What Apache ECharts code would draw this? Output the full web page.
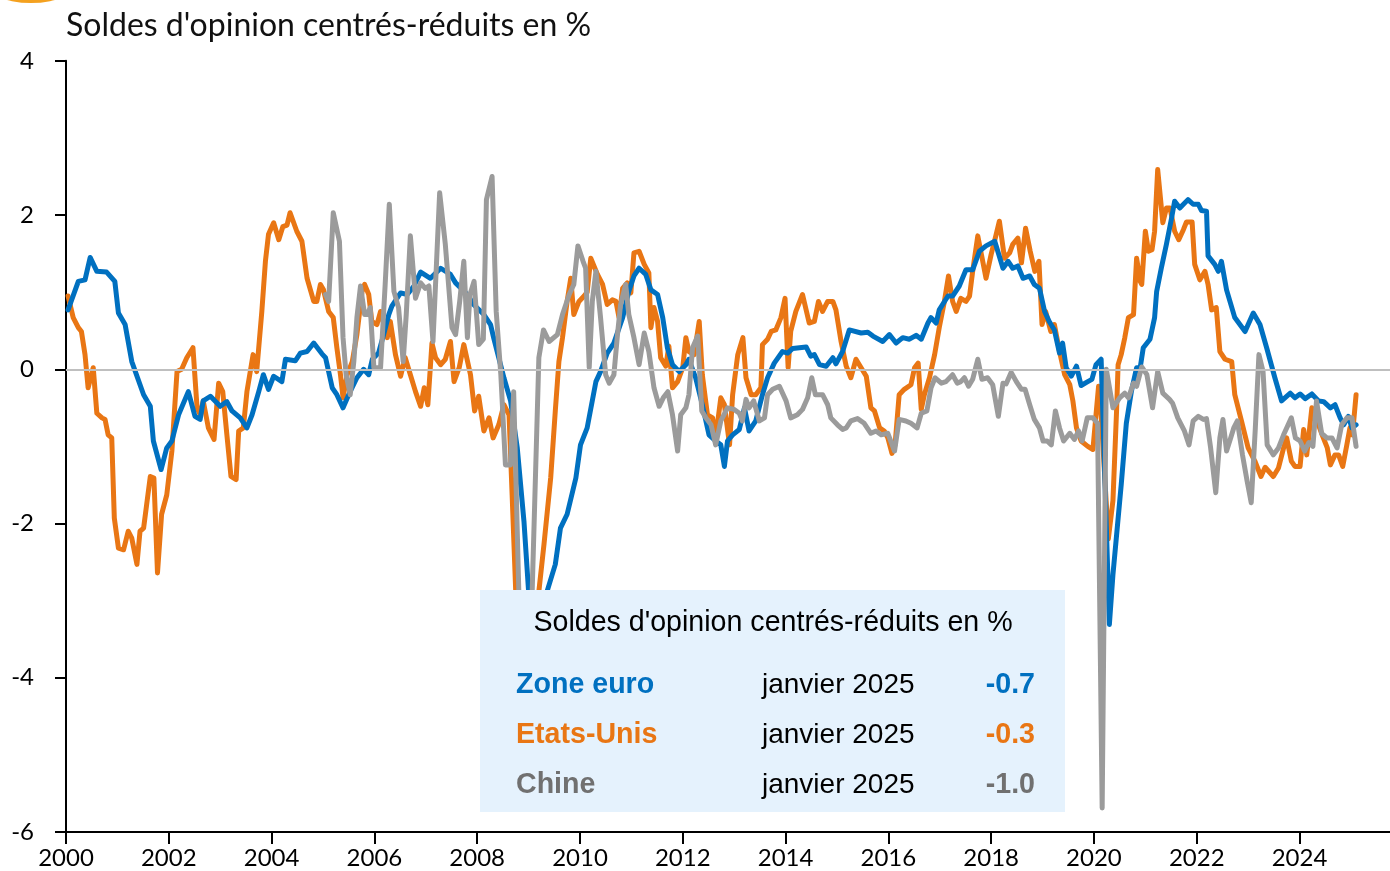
<!DOCTYPE html>
<html>
<head>
<meta charset="utf-8">
<script src="https://cdn.jsdelivr.net/npm/echarts@6/dist/echarts.min.js"></script>
<style>
  html, body { margin: 0; padding: 0; background: #ffffff; }
  #chart { width: 1390px; height: 871px; }
</style>
</head>
<body>
<div id="chart"></div>
<script>
// Soldes d'opinion centrés-réduits, [année décimale, valeur]
const zoneEuro = [[2000.04,0.77],[2000.24,1.14],[2000.37,1.16],[2000.47,1.45],[2000.6,1.27],[2000.79,1.26],[2000.95,1.14],[2001.02,0.73],[2001.15,0.58],[2001.28,0.10],[2001.51,-0.33],[2001.64,-0.48],[2001.7,-0.93],[2001.85,-1.30],[2001.96,-1.02],[2002.06,-0.93],[2002.19,-0.59],[2002.38,-0.29],[2002.51,-0.61],[2002.61,-0.65],[2002.67,-0.41],[2002.81,-0.35],[2003.0,-0.48],[2003.13,-0.42],[2003.23,-0.54],[2003.39,-0.63],[2003.52,-0.76],[2003.62,-0.59],[2003.75,-0.29],[2003.84,-0.07],[2003.94,-0.26],[2004.04,-0.09],[2004.2,-0.16],[2004.27,0.13],[2004.46,0.11],[2004.56,0.21],[2004.69,0.23],[2004.82,0.34],[2004.98,0.2],[2005.05,0.15],[2005.18,-0.24],[2005.27,-0.33],[2005.39,-0.50],[2005.5,-0.33],[2005.66,-0.11],[2005.79,0.0],[2005.89,-0.07],[2005.96,0.13],[2006.08,0.21],[2006.18,0.45],[2006.28,0.71],[2006.34,0.82],[2006.51,0.99],[2006.64,0.97],[2006.77,1.08],[2006.9,1.26],[2007.09,1.18],[2007.29,1.31],[2007.48,1.23],[2007.58,1.12],[2007.81,0.97],[2007.93,0.84],[2008.13,0.71],[2008.26,0.58],[2008.32,0.41],[2008.52,-0.11],[2008.65,-0.41],[2008.78,-1.02],[2008.91,-1.97],[2009.0,-2.88],[2009.12,-3.6],[2009.25,-3.5],[2009.36,-2.88],[2009.52,-2.53],[2009.62,-2.06],[2009.75,-1.88],[2009.92,-1.41],[2010.01,-0.98],[2010.14,-0.76],[2010.31,-0.16],[2010.4,-0.03],[2010.53,0.21],[2010.66,0.34],[2010.83,0.67],[2010.95,1.01],[2011.05,1.21],[2011.15,1.31],[2011.28,1.23],[2011.38,1.03],[2011.51,0.97],[2011.61,0.67],[2011.7,0.28],[2011.8,0.06],[2011.93,-0.03],[2012.06,0.06],[2012.12,0.13],[2012.25,-0.11],[2012.38,-0.46],[2012.51,-0.85],[2012.64,-0.93],[2012.74,-0.98],[2012.81,-1.26],[2012.87,-0.93],[2012.97,-0.85],[2013.1,-0.78],[2013.2,-0.50],[2013.29,-0.80],[2013.42,-0.67],[2013.55,-0.33],[2013.65,-0.11],[2013.78,0.08],[2013.94,0.23],[2014.04,0.21],[2014.14,0.27],[2014.4,0.29],[2014.49,0.17],[2014.56,0.19],[2014.66,0.06],[2014.79,0.04],[2014.92,0.15],[2014.98,0.07],[2015.11,0.23],[2015.24,0.51],[2015.47,0.47],[2015.6,0.48],[2015.7,0.43],[2015.89,0.36],[2016.02,0.45],[2016.15,0.34],[2016.28,0.41],[2016.41,0.39],[2016.54,0.44],[2016.64,0.39],[2016.77,0.60],[2016.83,0.67],[2016.93,0.60],[2016.99,0.77],[2017.16,0.95],[2017.25,0.95],[2017.38,1.08],[2017.51,1.29],[2017.64,1.29],[2017.77,1.53],[2017.9,1.60],[2018.07,1.66],[2018.23,1.31],[2018.33,1.40],[2018.42,1.31],[2018.52,1.34],[2018.62,1.18],[2018.75,1.21],[2018.84,1.10],[2018.94,1.05],[2019.04,0.75],[2019.13,0.62],[2019.23,0.51],[2019.33,0.21],[2019.39,0.34],[2019.46,0.02],[2019.56,-0.09],[2019.66,0.04],[2019.75,-0.21],[2019.88,-0.16],[2019.96,-0.13],[2020.04,0.06],[2020.14,0.13],[2020.3,-3.31],[2020.37,-2.66],[2020.53,-1.5],[2020.63,-0.70],[2020.73,-0.28],[2020.83,0.02],[2020.9,0.02],[2020.96,0.28],[2021.09,0.39],[2021.18,0.67],[2021.22,1.01],[2021.31,1.31],[2021.41,1.62],[2021.51,1.96],[2021.57,2.18],[2021.67,2.09],[2021.83,2.20],[2021.93,2.14],[2022.03,2.14],[2022.09,2.06],[2022.19,2.05],[2022.22,1.47],[2022.35,1.36],[2022.42,1.27],[2022.48,1.40],[2022.58,1.03],[2022.74,0.67],[2022.94,0.49],[2023.1,0.73],[2023.23,0.58],[2023.36,0.28],[2023.52,-0.11],[2023.65,-0.41],[2023.82,-0.31],[2023.91,-0.37],[2024.01,-0.32],[2024.11,-0.38],[2024.24,-0.32],[2024.37,-0.41],[2024.47,-0.42],[2024.6,-0.50],[2024.69,-0.46],[2024.79,-0.63],[2024.86,-0.72],[2024.95,-0.61],[2025.02,-0.76],[2025.1,-0.72]];

const etatsUnis = [[2000.04,0.95],[2000.14,0.67],[2000.24,0.54],[2000.3,0.49],[2000.37,0.19],[2000.43,-0.24],[2000.53,0.02],[2000.6,-0.57],[2000.7,-0.63],[2000.76,-0.65],[2000.82,-0.85],[2000.89,-0.89],[2000.94,-1.93],[2001.02,-2.32],[2001.12,-2.34],[2001.21,-2.10],[2001.28,-2.19],[2001.38,-2.53],[2001.44,-2.10],[2001.51,-2.06],[2001.57,-1.75],[2001.64,-1.39],[2001.71,-1.41],[2001.78,-2.64],[2001.86,-1.88],[2001.96,-1.63],[2002.06,-1.06],[2002.16,-0.03],[2002.25,0.0],[2002.35,0.15],[2002.47,0.28],[2002.55,-0.50],[2002.61,-0.59],[2002.67,-0.41],[2002.77,-0.76],[2002.88,-0.91],[2002.97,-0.18],[2003.05,-0.29],[2003.13,-0.85],[2003.21,-1.39],[2003.31,-1.43],[2003.36,-0.80],[2003.45,-0.76],[2003.52,-0.29],[2003.64,0.19],[2003.71,-0.03],[2003.81,0.75],[2003.88,1.40],[2003.94,1.75],[2004.04,1.90],[2004.14,1.68],[2004.22,1.85],[2004.3,1.87],[2004.36,2.03],[2004.49,1.79],[2004.59,1.66],[2004.69,1.18],[2004.82,0.88],[2004.88,0.88],[2004.95,1.10],[2005.01,1.03],[2005.11,0.75],[2005.2,0.67],[2005.27,0.28],[2005.34,-0.07],[2005.39,-0.37],[2005.47,-0.07],[2005.57,0.10],[2005.66,0.45],[2005.76,1.01],[2005.81,1.10],[2005.89,0.97],[2005.95,0.62],[2006.05,0.58],[2006.12,0.75],[2006.25,0.41],[2006.31,0.62],[2006.41,0.19],[2006.51,-0.09],[2006.6,0.15],[2006.7,-0.07],[2006.8,-0.29],[2006.9,-0.48],[2006.97,-0.24],[2007.04,-0.46],[2007.12,0.34],[2007.19,0.15],[2007.29,0.06],[2007.38,0.13],[2007.48,0.36],[2007.55,-0.16],[2007.65,0.02],[2007.74,0.32],[2007.87,-0.07],[2007.95,-0.54],[2008.03,-0.35],[2008.13,-0.80],[2008.23,-0.63],[2008.31,-0.89],[2008.42,-0.72],[2008.52,-0.46],[2008.62,-0.59],[2008.68,-1.63],[2008.75,-2.88],[2008.9,-3.6],[2009.05,-3.5],[2009.2,-2.88],[2009.3,-2.27],[2009.43,-1.41],[2009.52,-0.54],[2009.59,0.10],[2009.66,0.41],[2009.75,0.88],[2009.82,1.18],[2009.88,0.71],[2009.98,0.88],[2010.08,0.95],[2010.14,1.0],[2010.21,1.44],[2010.34,1.23],[2010.44,1.10],[2010.53,0.84],[2010.63,0.90],[2010.7,0.88],[2010.76,0.67],[2010.83,1.05],[2010.92,1.12],[2010.99,0.99],[2011.05,1.51],[2011.15,1.53],[2011.25,1.36],[2011.34,1.25],[2011.38,0.54],[2011.44,0.80],[2011.51,0.62],[2011.57,0.15],[2011.67,0.04],[2011.73,0.30],[2011.8,-0.24],[2011.9,-0.16],[2012.0,0.02],[2012.06,0.41],[2012.12,0.23],[2012.22,0.19],[2012.32,0.62],[2012.38,-0.07],[2012.48,-0.59],[2012.58,-0.63],[2012.64,-0.89],[2012.74,-0.37],[2012.81,-0.46],[2012.91,-0.98],[2012.97,-0.33],[2013.07,0.19],[2013.17,0.41],[2013.23,-0.11],[2013.33,-0.33],[2013.42,-0.33],[2013.52,-0.24],[2013.55,0.32],[2013.65,0.39],[2013.72,0.49],[2013.81,0.51],[2013.91,0.67],[2013.99,0.92],[2014.05,0.02],[2014.1,0.49],[2014.2,0.75],[2014.33,0.97],[2014.46,0.60],[2014.56,0.62],[2014.64,0.88],[2014.72,0.75],[2014.82,0.88],[2014.92,0.88],[2014.98,0.77],[2015.08,0.36],[2015.18,0.04],[2015.27,-0.11],[2015.37,0.13],[2015.47,0.02],[2015.57,-0.09],[2015.66,-0.50],[2015.73,-0.54],[2015.83,-0.76],[2015.92,-0.80],[2015.99,-0.89],[2016.07,-1.09],[2016.13,-0.98],[2016.21,-0.33],[2016.31,-0.26],[2016.44,-0.20],[2016.51,0.02],[2016.58,0.08],[2016.64,-0.52],[2016.7,-0.33],[2016.8,-0.11],[2016.9,0.19],[2016.99,0.54],[2017.09,0.88],[2017.17,1.21],[2017.25,0.88],[2017.32,0.75],[2017.41,0.92],[2017.51,0.88],[2017.58,0.95],[2017.64,1.27],[2017.74,1.73],[2017.81,1.49],[2017.9,1.18],[2018.0,1.49],[2018.08,1.70],[2018.16,1.92],[2018.26,1.44],[2018.36,1.51],[2018.42,1.62],[2018.52,1.70],[2018.59,1.38],[2018.67,1.83],[2018.76,1.53],[2018.85,1.27],[2018.93,1.40],[2018.99,0.58],[2019.06,0.75],[2019.16,0.49],[2019.23,0.58],[2019.33,0.23],[2019.43,-0.07],[2019.53,-0.20],[2019.59,-0.41],[2019.66,-0.76],[2019.75,-0.93],[2019.88,-1.0],[2019.98,-1.04],[2020.04,-0.59],[2020.09,-0.22],[2020.14,-0.59],[2020.28,-2.2],[2020.37,-1.7],[2020.44,-0.54],[2020.47,0.06],[2020.53,0.19],[2020.6,0.41],[2020.67,0.67],[2020.77,0.71],[2020.83,1.44],[2020.9,1.14],[2020.93,1.10],[2021.0,1.79],[2021.06,1.53],[2021.13,1.55],[2021.18,1.79],[2021.24,2.59],[2021.34,1.90],[2021.41,2.09],[2021.48,2.09],[2021.57,1.79],[2021.65,1.68],[2021.74,1.81],[2021.8,1.91],[2021.91,1.91],[2021.96,1.36],[2022.06,1.16],[2022.16,1.27],[2022.22,1.10],[2022.29,0.77],[2022.38,0.80],[2022.45,0.23],[2022.55,0.13],[2022.68,0.10],[2022.74,-0.33],[2022.87,-0.67],[2023.0,-1.02],[2023.13,-1.19],[2023.25,-1.39],[2023.33,-1.27],[2023.49,-1.39],[2023.59,-1.28],[2023.69,-1.02],[2023.75,-0.89],[2023.84,-1.19],[2023.91,-1.26],[2024.01,-1.26],[2024.08,-0.78],[2024.14,-1.11],[2024.24,-0.50],[2024.34,-0.67],[2024.44,-0.85],[2024.54,-1.02],[2024.6,-1.24],[2024.69,-1.11],[2024.76,-1.11],[2024.84,-1.26],[2024.92,-0.98],[2024.98,-0.76],[2025.03,-0.85],[2025.1,-0.33]];

const chine = [[2005.05,0.97],[2005.11,0.88],[2005.2,2.03],[2005.32,1.66],[2005.39,0.41],[2005.45,-0.07],[2005.53,-0.33],[2005.6,0.10],[2005.66,0.67],[2005.73,1.08],[2005.81,0.71],[2005.86,0.71],[2005.92,0.80],[2005.99,0.02],[2006.12,0.02],[2006.21,1.10],[2006.29,2.14],[2006.38,1.01],[2006.47,0.80],[2006.56,0.10],[2006.62,0.71],[2006.7,1.73],[2006.8,0.92],[2006.9,1.12],[2006.99,1.05],[2007.06,1.08],[2007.14,0.36],[2007.21,1.40],[2007.27,2.29],[2007.38,1.62],[2007.51,0.54],[2007.58,0.45],[2007.66,0.88],[2007.74,1.40],[2007.81,0.41],[2007.86,0.97],[2007.94,1.14],[2008.03,0.32],[2008.12,0.39],[2008.18,2.20],[2008.29,2.50],[2008.37,0.75],[2008.46,-0.07],[2008.55,-1.24],[2008.65,-1.24],[2008.71,-0.29],[2008.81,-2.88],[2008.93,-3.9],[2009.07,-2.88],[2009.2,0.15],[2009.29,0.51],[2009.4,0.36],[2009.56,0.45],[2009.66,0.71],[2009.79,0.97],[2009.88,1.10],[2009.96,1.60],[2010.06,1.4],[2010.11,1.31],[2010.18,0.02],[2010.24,0.88],[2010.31,1.27],[2010.4,0.67],[2010.5,-0.07],[2010.57,-0.18],[2010.66,-0.07],[2010.73,0.45],[2010.79,0.84],[2010.89,1.10],[2010.95,0.71],[2011.05,0.41],[2011.15,0.06],[2011.25,0.47],[2011.34,0.23],[2011.44,-0.24],[2011.54,-0.48],[2011.62,-0.37],[2011.71,-0.29],[2011.8,-0.59],[2011.9,-1.06],[2011.96,-0.59],[2012.06,-0.50],[2012.12,-0.33],[2012.19,0.28],[2012.29,0.43],[2012.37,-0.54],[2012.45,-0.63],[2012.55,-0.72],[2012.64,-0.98],[2012.74,-0.67],[2012.87,-0.50],[2013.0,-0.52],[2013.1,-0.57],[2013.16,-0.67],[2013.23,-0.39],[2013.29,-0.50],[2013.38,-0.41],[2013.49,-0.67],[2013.59,-0.63],[2013.65,-0.33],[2013.75,-0.26],[2013.88,-0.22],[2014.01,-0.41],[2014.1,-0.63],[2014.23,-0.59],[2014.33,-0.52],[2014.43,-0.37],[2014.51,-0.11],[2014.58,-0.33],[2014.72,-0.33],[2014.82,-0.46],[2014.88,-0.63],[2015.01,-0.72],[2015.11,-0.78],[2015.18,-0.76],[2015.27,-0.67],[2015.4,-0.64],[2015.53,-0.70],[2015.66,-0.83],[2015.76,-0.80],[2015.86,-0.85],[2015.99,-0.83],[2016.12,-1.06],[2016.21,-0.65],[2016.34,-0.67],[2016.44,-0.70],[2016.56,-0.76],[2016.64,-0.57],[2016.75,-0.54],[2016.83,-0.24],[2016.91,-0.11],[2017.03,-0.18],[2017.12,-0.16],[2017.25,-0.07],[2017.34,-0.18],[2017.41,-0.16],[2017.48,-0.11],[2017.56,-0.22],[2017.64,-0.13],[2017.74,0.13],[2017.82,-0.13],[2017.93,-0.11],[2018.03,-0.20],[2018.14,-0.61],[2018.23,-0.18],[2018.29,-0.19],[2018.39,-0.04],[2018.49,-0.16],[2018.59,-0.26],[2018.66,-0.26],[2018.75,-0.46],[2018.84,-0.65],[2018.94,-0.76],[2019.01,-0.93],[2019.09,-0.93],[2019.17,-0.98],[2019.25,-0.54],[2019.33,-0.76],[2019.41,-0.93],[2019.53,-0.83],[2019.62,-0.91],[2019.7,-0.80],[2019.77,-0.93],[2019.87,-0.63],[2019.98,-0.63],[2020.07,-0.70],[2020.16,-5.69],[2020.24,0.0],[2020.37,-0.50],[2020.5,-0.37],[2020.6,-0.31],[2020.67,-0.37],[2020.77,-0.18],[2020.83,-0.22],[2020.93,0.03],[2021.03,-0.07],[2021.14,-0.50],[2021.24,-0.03],[2021.34,-0.31],[2021.47,-0.39],[2021.53,-0.44],[2021.63,-0.63],[2021.76,-0.80],[2021.85,-0.98],[2021.93,-0.67],[2022.03,-0.61],[2022.13,-0.65],[2022.19,-0.64],[2022.27,-1.02],[2022.37,-1.60],[2022.45,-0.89],[2022.51,-0.65],[2022.58,-1.06],[2022.66,-0.89],[2022.72,-0.76],[2022.79,-0.67],[2022.89,-1.11],[2022.98,-1.45],[2023.06,-1.73],[2023.14,-0.76],[2023.21,0.19],[2023.29,-0.03],[2023.37,-0.98],[2023.49,-1.11],[2023.59,-1.02],[2023.69,-0.85],[2023.84,-0.63],[2023.92,-0.89],[2024.01,-0.93],[2024.1,-1.06],[2024.18,-0.95],[2024.26,-1.0],[2024.33,-0.41],[2024.43,-0.83],[2024.53,-0.89],[2024.63,-0.89],[2024.73,-1.02],[2024.82,-0.72],[2024.92,-0.63],[2025.02,-0.63],[2025.1,-1.0]];

const yTicks = [-6, -4, -2, 0, 2, 4];
const xStart = 2000, xEnd = 2025.76, xStep = 2;
const lastMonth = 'janvier 2025';
const titleText = "Soldes d'opinion centrés-réduits en %";

const COLORS = { euro: '#0070C0', us: '#E97614', cn: '#9B9B9B', cnText: '#707070' };
const AXIS_FONT = 'Lato, "Open Sans", sans-serif';
const BOX_FONT = '"Liberation Sans", Arial, sans-serif';

const last = arr => arr[arr.length - 1][1];
const fmt = v => (v < 0 ? '-' : '') + Math.abs(v).toFixed(1);

const chart = echarts.init(document.getElementById('chart'), null, { renderer: 'canvas' });

const lineSeries = (name, data, color) => ({
  name, type: 'line', data, showSymbol: false, symbol: 'none',
  lineStyle: { color, width: 5, join: 'round', cap: 'round' },
  z: 3, silent: true
});

// Summary panel rows
const rows = [
  { label: 'Zone euro', color: COLORS.euro, value: fmt(last(zoneEuro)) },
  { label: 'Etats-Unis', color: COLORS.us, value: fmt(last(etatsUnis)) },
  { label: 'Chine', color: COLORS.cnText, value: fmt(last(chine)) }
];
const panel = [
  { type: 'rect', shape: { x: 480, y: 590, width: 585, height: 222 }, style: { fill: '#E5F2FD' }, z: 100 },
  { type: 'text', x: 773, y: 623, z: 101,
    style: { text: titleText, fill: '#000', font: '28.6px ' + BOX_FONT, textAlign: 'center', textVerticalAlign: 'middle' } }
];
rows.forEach((r, i) => {
  const y = 685 + i * 50;
  panel.push({ type: 'text', x: 516, y, z: 101,
    style: { text: r.label, fill: r.color, font: 'bold 28.6px ' + BOX_FONT, textAlign: 'left', textVerticalAlign: 'middle' } });
  panel.push({ type: 'text', x: 762, y, z: 101,
    style: { text: lastMonth, fill: '#000', font: '28px ' + BOX_FONT, textAlign: 'left', textVerticalAlign: 'middle' } });
  panel.push({ type: 'text', x: 1035, y, z: 101,
    style: { text: r.value, fill: r.color, font: 'bold 28.6px ' + BOX_FONT, textAlign: 'right', textVerticalAlign: 'middle' } });
});

chart.setOption({
  animation: false,
  backgroundColor: '#ffffff',
  grid: { left: 66, right: 0, top: 60.8, bottom: 39, containLabel: false },
  xAxis: {
    type: 'value', min: xStart, max: xEnd, interval: xStep,
    axisLine: { show: true, onZero: false, lineStyle: { color: '#000', width: 2 } },
    axisTick: { show: true, length: 12, lineStyle: { color: '#000', width: 2 } },
    axisLabel: {
      color: '#000', fontFamily: AXIS_FONT, fontSize: 24, margin: 14, showMaxLabel: false,
      formatter: v => (Math.abs(v - Math.round(v)) < 1e-6 ? String(Math.round(v)) : '')
    },
    splitLine: { show: false }
  },
  yAxis: {
    type: 'value', min: yTicks[0], max: yTicks[yTicks.length - 1], interval: 2,
    axisLine: { show: true, onZero: false, lineStyle: { color: '#000', width: 2 } },
    axisTick: { show: true, length: 11, lineStyle: { color: '#000', width: 2 } },
    axisLabel: { color: '#000', fontFamily: AXIS_FONT, fontSize: 24, margin: 32 },
    splitLine: { show: false }
  },
  graphic: [
    { type: 'circle', shape: { cx: 31, cy: -94.5, r: 97.5 }, style: { fill: '#F4A11F' }, z: 50 },
    { type: 'text', x: 66, y: 26, z: 50,
      style: { text: titleText, fill: '#111', font: '32px ' + AXIS_FONT, textAlign: 'left', textVerticalAlign: 'middle' } }
  ].concat(panel),
  series: [
    {
      type: 'line', data: [[xStart, 0]], showSymbol: false, lineStyle: { opacity: 0 }, z: 1, silent: true,
      markLine: {
        silent: true, symbol: 'none', label: { show: false },
        lineStyle: { color: '#BFBFBF', width: 2, type: 'solid' },
        data: [{ yAxis: 0 }]
      }
    },
    lineSeries('Etats-Unis', etatsUnis, COLORS.us),
    lineSeries('Zone euro', zoneEuro, COLORS.euro),
    lineSeries('Chine', chine, COLORS.cn)
  ]
});
</script>
</body>
</html>
